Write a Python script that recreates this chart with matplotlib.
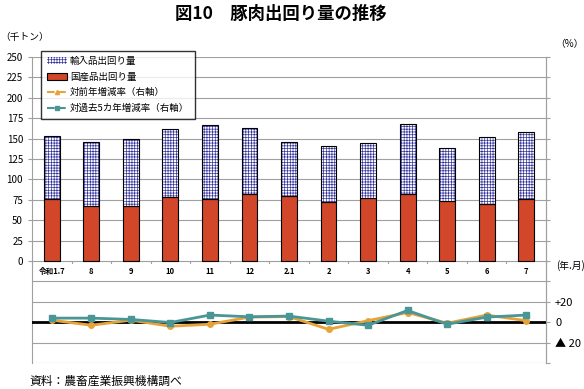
import matplotlib
matplotlib.use("Agg")
import matplotlib.pyplot as plt
import numpy as np
from matplotlib.patches import Patch
from matplotlib.lines import Line2D

plt.rcParams['font.family'] = ['Noto Sans CJK JP', 'DejaVu Sans']

months = ["令和1.7", "8", "9", "10", "11", "12", "2.1", "2", "3", "4", "5", "6", "7"]
domestic = [75.5, 68, 68, 79, 75.5, 81.5, 79.5, 72, 77, 81.5, 73, 69.5, 75.5]
imported = [77.5, 77.5, 81, 83, 91.5, 81.5, 66.5, 69, 67, 86.5, 66, 82.5, 82.5]
yoy = [2, -3, 2, -4, -2, 5, 5.5, -7, 1.5, 9.5, -1, 7, 1.5]
vs5y = [4, 4, 2.7, -0.3, 7, 5.3, 6, 1, -3, 11.5, -2, 5, 7]

red = "#D2462A"
navy = "#34349A"
orange = "#E5A33A"
teal = "#4A9696"
grid = "#A0A0A0"

fig = plt.figure(figsize=(5.84, 3.89), dpi=100)
ax = fig.add_axes([32/584, 1-363/389, 514/584, 306/389])
x = np.arange(len(months))
w = 0.4

# grid lines (left axis every 25)
for g in np.arange(-125, 251, 25):
    if g == 0:
        continue
    ax.axhline(g, color=grid, lw=0.8, zorder=0)
ax.axhline(0, color=grid, lw=0.8, zorder=1)
for b in np.arange(-0.5, len(months), 1):
    ax.plot([b, b], [0, -2.5], color=grid, lw=0.8, clip_on=False)

ax.bar(x, domestic, w, color=red, edgecolor="black", lw=0.8, zorder=3)
plt.rcParams['hatch.linewidth'] = 0.5
ax.bar(x, imported, w, bottom=domestic, color="white", edgecolor=navy,
       hatch="++++++", lw=0, zorder=3)
ax.bar(x, imported, w, bottom=domestic, fill=False, edgecolor="black", lw=0.8, zorder=4)

ax.set_xlim(-0.5, len(months) - 0.5)
ax.set_ylim(-125, 250)
ax.set_yticks(np.arange(0, 251, 25))
ax.tick_params(axis='y', labelsize=7, length=3, color=grid)
ax.set_xticks([])
for i, m in enumerate(months):
    ax.text(i, -12.5, m, ha="center", va="center", fontsize=5.5, fontweight="bold")
for s in ["top", "bottom"]:
    ax.spines[s].set_visible(False)
for s in ["left", "right"]:
    ax.spines[s].set_color(grid)

ax2 = ax.twinx()
ax2.set_ylim(-40, 260)
ax2.set_yticks(np.arange(-40, 261, 20))
ax2.set_yticklabels(["", "▲ 20", "0", "+20"] + [""] * 12)
ax2.tick_params(axis='y', labelsize=8, length=3, color=grid)
for s in ["top", "bottom", "left"]:
    ax2.spines[s].set_visible(False)
ax2.spines["right"].set_color(grid)
ax2.axhline(0, color="black", lw=2, zorder=2)
ax2.plot(x, yoy, color=orange, lw=2, marker="o", ms=4, zorder=3)
ax2.plot(x, vs5y, color=teal, lw=2, marker="s", ms=5, zorder=4)

handles = [
    Patch(facecolor="white", edgecolor=navy, hatch="++++++", lw=0),
    Patch(facecolor=red, edgecolor="black", lw=0.8),
    Line2D([0], [0], color=orange, lw=1.5, ls="--", marker="^", ms=3),
    Line2D([0], [0], color=teal, lw=1.5, ls="--", marker="s", ms=3),
]
labels = ["輸入品出回り量", "国産品出回り量", "対前年増減率（右軸）", "対過去5カ年増減率（右軸）"]
leg = ax.legend(handles, labels, loc="upper left", bbox_to_anchor=(0.008, 1.035),
                fontsize=6.8, frameon=True, fancybox=False, edgecolor="black",
                handlelength=2.2, labelspacing=0.7, borderpad=0.6, handletextpad=0.3)
leg.get_frame().set_linewidth(1)
leg.set_zorder(10)

fig.text(0.48, 0.963, "図10　豚肉出回り量の推移", ha="center", va="center",
         fontsize=12.5, fontweight="bold")
fig.text(0.0, 0.905, "（千トン）", ha="left", va="center", fontsize=7)
fig.text(0.95, 0.888, "（%）", ha="left", va="center", fontsize=7)
fig.text(0.952, 0.317, "(年.月)", ha="left", va="center", fontsize=7)
fig.text(0.05, 0.02, "資料：農畜産業振興機構調べ", ha="left", va="center", fontsize=8.5)

fig.savefig("out.png", dpi=100)
